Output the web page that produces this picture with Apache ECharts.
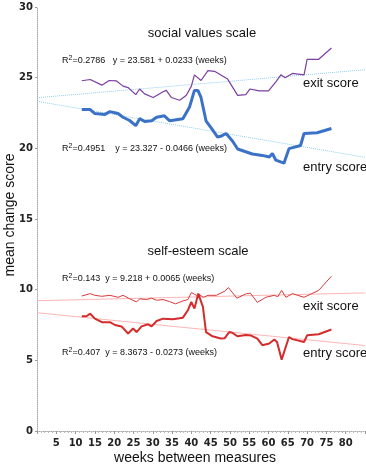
<!DOCTYPE html>
<html><head><meta charset="utf-8">
<script src="https://cdn.jsdelivr.net/npm/echarts@6/dist/echarts.min.js"></script>
<style>html,body{margin:0;padding:0;background:#fff}#c{width:366px;height:468px}</style>
</head><body><div id="c"></div>
<script>
// ---- data ----
const socialExitWeeks = [11.6, 13.8, 16.8, 18.7, 20.6, 22.3, 23.6, 25.6, 26.6, 27.9, 30.1, 32.7, 33.5, 34.8, 37, 38.7, 40, 40.8, 42.5, 44.3, 46, 49.4, 52, 54.1, 55.2, 57.6, 60, 61.9, 63.2, 64.3, 66.2, 69.2, 70, 73, 76.3];
const socialExit = [24.78, 24.87, 24.47, 24.8, 24.77, 24.4, 24.3, 23.8, 24.2, 23.85, 23.6, 24.0, 24.1, 23.6, 23.4, 23.76, 24.4, 25.2, 24.8, 25.5, 25.45, 24.9, 23.75, 23.8, 24.2, 24.07, 24.07, 24.7, 25.2, 25.0, 25.3, 25.2, 26.3, 26.3, 27.1];

const socialEntryWeeks = [11.6, 13.8, 15.0, 17.6, 18.9, 21, 22.3, 24, 25.6, 26.6, 27.9, 29.7, 31, 33, 34.4, 37.8, 39.5, 40.8, 41.7, 42.5, 43.8, 45.5, 46.8, 47.6, 49, 50.7, 52, 55.8, 58.4, 60.2, 61, 61.9, 64, 65.3, 65.7, 68.3, 69.2, 72.6, 76.3];
const socialEntry = [22.74, 22.74, 22.46, 22.4, 22.6, 22.46, 22.2, 21.97, 21.6, 22.1, 21.9, 21.95, 22.2, 22.3, 21.95, 22.1, 22.9, 24.1, 24.1, 23.6, 21.95, 21.3, 20.8, 20.85, 21.05, 20.5, 19.95, 19.6, 19.5, 19.39, 19.63, 19.16, 18.95, 19.98, 20.1, 20.2, 21.05, 21.1, 21.4];

const selfExitWeeks = [11.6, 13.8, 15.0, 16.8, 18.9, 21, 22.3, 24, 25.8, 26.6, 28.4, 29.7, 31, 32.7, 34.4, 35.9, 37.8, 39.1, 40, 41.3, 42.1, 43.1, 44.3, 46.5, 48.7, 49.6, 51.8, 54.3, 55.3, 57.1, 59.3, 61.5, 62.4, 63.4, 64.5, 66.2, 69.2, 73, 76.3];
const selfExit = [9.55, 9.72, 9.6, 9.53, 9.6, 9.46, 9.6, 9.36, 9.13, 9.35, 9.3, 9.4, 9.25, 9.3, 9.15, 9.0, 9.2, 9.3, 9.8, 9.6, 9.65, 9.46, 9.6, 9.6, 9.9, 10.15, 9.4, 9.72, 9.75, 9.1, 9.46, 9.6, 9.5, 9.95, 9.46, 9.72, 9.46, 9.95, 10.95];

const selfEntryWeeks = [11.6, 12.8, 13.8, 15.0, 16.8, 18.9, 20.2, 21.9, 23.6, 24.9, 25.8, 27.1, 28.8, 29.7, 31, 32.7, 35.2, 37.8, 39.1, 40, 40.8, 41.8, 43, 43.8, 45.5, 47.6, 48.6, 49.8, 50.6, 52, 54.1, 55.5, 57.1, 58.4, 60.2, 61.5, 62.2, 63.4, 65.3, 66.2, 69.2, 70, 73, 76.3];
const selfEntry = [8.12, 8.12, 8.3, 7.95, 7.7, 7.7, 7.5, 7.4, 6.9, 7.25, 7.0, 7.4, 7.55, 7.4, 7.78, 7.95, 7.9, 8.02, 8.54, 9.13, 8.66, 9.72, 8.78, 7.0, 6.7, 6.54, 6.56, 7.0, 6.95, 6.7, 6.8, 6.75, 6.54, 6.07, 6.19, 6.47, 6.3, 5.05, 6.65, 6.5, 6.3, 6.77, 6.85, 7.18];

// regression fits: [intercept, slope]
const socialExitFit = [23.581, 0.0233];
const socialEntryFit = [23.327, -0.0466];
const selfExitFit = [9.218, 0.0065];
const selfEntryFit = [8.3673, -0.0273];
const fitRange = [0, 85];

const xTicks = [0, 85, 5];  // min, max, interval
const yTicks = [0, 30, 5];

const pair = (xs, ys) => xs.map((x, i) => [x, ys[i]]);
const fitLine = f => fitRange.map(x => [x, f[0] + f[1] * x]);

const chart = echarts.init(document.getElementById('c'), null, {renderer: 'canvas'});
const axisLabelStyle = {fontFamily: 'DejaVu Sans', fontSize: 10, fontWeight: 'bold', color: '#222'};
const eqRich = {
  r: {fontFamily: 'Liberation Sans', fontSize: 9, color: '#111', lineHeight: 12},
  s: {fontFamily: 'Liberation Sans', fontSize: 7, color: '#111', verticalAlign: 'top', lineHeight: 6}
};
function eqText(left, top, r2, eq) {
  return {type: 'text', left: left, top: top,
    style: {text: '{r|R}{s|2}{r|=' + r2 + eq + '}', rich: eqRich, fill: '#111'}};
}
function label(left, top, txt, size) {
  return {type: 'text', left: left, top: top,
    style: {text: txt, fontFamily: 'Liberation Sans', fontSize: size, fill: '#111'}};
}
function centered(cx, top, txt, size) {
  return {type: 'text', x: cx, y: top,
    style: {text: txt, fontFamily: 'Liberation Sans', fontSize: size, fill: '#111', align: 'center', verticalAlign: 'top'}};
}

chart.setOption({
  animation: false,
  grid: {left: 37, right: 1, top: 7, bottom: 37, containLabel: false, outerBoundsMode: 'none'},
  xAxis: {
    type: 'value', min: xTicks[0], max: xTicks[1], interval: xTicks[2],
    name: 'weeks between measures', nameLocation: 'middle', nameGap: 20, nameMoveOverlap: false,
    nameTextStyle: {fontFamily: 'Liberation Sans', fontSize: 14, color: '#111', padding: [0, 12, 0, 0]},
    axisLine: {lineStyle: {color: '#aaa', type: 'dotted', width: 1}},
    axisTick: {show: true, length: 3, lineStyle: {color: '#999'}},
    minorTick: {show: true, splitNumber: 5, length: 2, lineStyle: {color: '#bbb'}},
    splitLine: {show: false},
    axisLabel: Object.assign({margin: 7, showMinLabel: false, showMaxLabel: false}, axisLabelStyle)
  },
  yAxis: {
    type: 'value', min: yTicks[0], max: yTicks[1], interval: yTicks[2],
    name: 'mean change score', nameLocation: 'middle', nameGap: 20, nameMoveOverlap: false,
    nameTextStyle: {fontFamily: 'Liberation Sans', fontSize: 14, color: '#111', padding: [0, 0, 0, 8]},
    axisLine: {show: true, lineStyle: {color: '#aaa', type: 'dotted', width: 1}},
    axisTick: {show: true, length: 2, lineStyle: {color: '#999'}},
    splitLine: {show: false},
    axisLabel: Object.assign({margin: 4}, axisLabelStyle)
  },
  series: [
    {type: 'line', data: fitLine(socialExitFit), symbol: 'none', lineStyle: {color: '#8ecdf0', width: 1, type: 'dotted'}, z: 1},
    {type: 'line', data: fitLine(socialEntryFit), symbol: 'none', lineStyle: {color: '#8ecdf0', width: 1, type: 'dotted'}, z: 1},
    {type: 'line', data: fitLine(selfExitFit), symbol: 'none', lineStyle: {color: '#ffb4b4', width: 1}, z: 1},
    {type: 'line', data: fitLine(selfEntryFit), symbol: 'none', lineStyle: {color: '#ffb4b4', width: 1}, z: 1},
    {type: 'line', data: pair(socialExitWeeks, socialExit), symbol: 'none', lineStyle: {color: '#7b3fa0', width: 1.2}, z: 3},
    {type: 'line', data: pair(socialEntryWeeks, socialEntry), symbol: 'none', lineStyle: {color: '#3b72c8', width: 3}, z: 3},
    {type: 'line', data: pair(selfExitWeeks, selfExit), symbol: 'none', lineStyle: {color: '#d63a3a', width: 1}, z: 3},
    {type: 'line', data: pair(selfEntryWeeks, selfEntry), symbol: 'none', lineStyle: {color: '#d42c2c', width: 2}, z: 3}
  ],
  graphic: [
    centered(202, 27, 'social values scale', 13),
    eqText(62, 55, '0.2786', '   y = 23.581 + 0.0233 (weeks)'),
    label(303, 77, 'exit score', 13),
    eqText(62, 143, '0.4951', '    y = 23.327 - 0.0466 (weeks)'),
    label(303, 161, 'entry score', 13),
    centered(198, 245, 'self-esteem scale', 13),
    eqText(62, 273, '0.143', '  y = 9.218 + 0.0065 (weeks)'),
    label(303, 300, 'exit score', 13),
    eqText(62, 347, '0.407', '  y = 8.3673 - 0.0273 (weeks)'),
    label(303, 347, 'entry score', 13)
  ]
});
</script></body></html>
